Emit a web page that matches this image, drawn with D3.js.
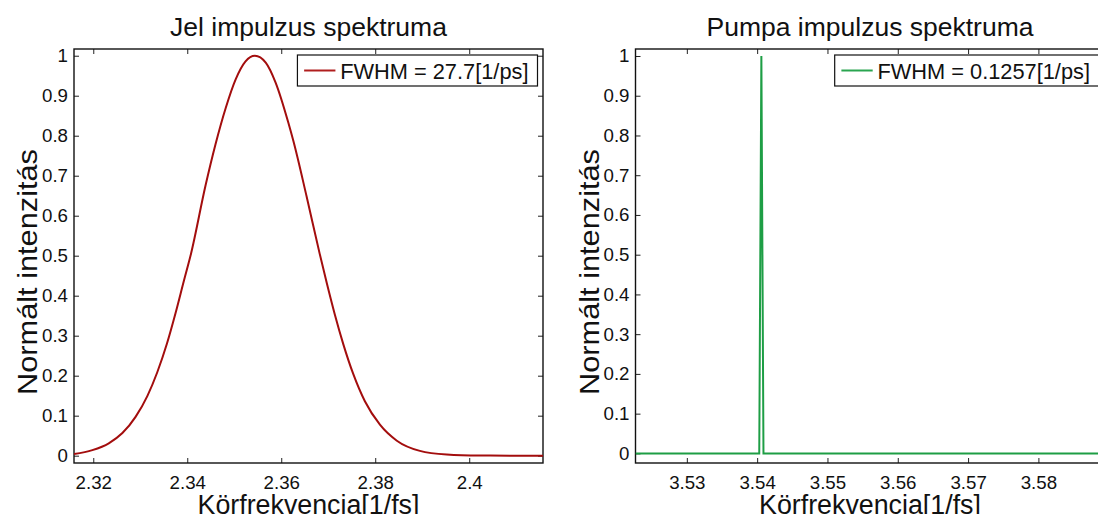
<!DOCTYPE html>
<html>
<head>
<meta charset="utf-8">
<script src="https://cdn.jsdelivr.net/npm/d3@7"></script>
<style>
  body { margin: 0; background: #fff; }
  svg { display: block; font-family: "Liberation Sans", Arial, sans-serif; }
</style>
</head>
<body>
<svg id="chart" width="1098" height="514"></svg>
<script>
/*------------------- Data -------------------*/
const jelFreq = [2.3159, 2.3198, 2.3233, 2.3262, 2.3290, 2.3315, 2.3336, 2.3357, 2.3375, 2.3393,
                 2.3408, 2.3439, 2.3460, 2.3482, 2.3503, 2.3524, 2.3544, 2.3567, 2.3588, 2.3615,
                 2.3626, 2.3654, 2.3682, 2.3697, 2.3714, 2.3732, 2.3753, 2.3778, 2.3810, 2.3846,
                 2.3895, 2.3952, 2.4023, 2.4090, 2.4157];
const jelInt  = [0.004, 0.014, 0.031, 0.0565, 0.097, 0.149, 0.208, 0.281, 0.356, 0.438,
                 0.505, 0.676, 0.778, 0.870, 0.941, 0.986, 1.0, 0.983, 0.933, 0.833,
                 0.786, 0.648, 0.504, 0.431, 0.353, 0.279, 0.205, 0.136, 0.0775, 0.0375,
                 0.012, 0.003, 0.0004, 0, 0];

const pumpaFreq = [3.5227, 3.5300, 3.5403, 3.5406, 3.5409, 3.5500, 3.5894];
const pumpaInt  = [0, 0, 0, 1, 0, 0, 0];

const jelTicksX   = [2.32, 2.34, 2.36, 2.38, 2.40];
const pumpaTicksX = [3.53, 3.54, 3.55, 3.56, 3.57, 3.58];
const ticksY      = [0, 0.1, 0.2, 0.3, 0.4, 0.5, 0.6, 0.7, 0.8, 0.9, 1];

const titles  = ["Jel impulzus spektruma", "Pumpa impulzus spektruma"];
const legends = ["FWHM = 27.7[1/ps]", "FWHM = 0.1257[1/ps]"];
const xLabel  = "Körfrekvencia[1/fs]";
const yLabel  = "Normált intenzitás";

/*------------------- Layout -------------------*/
const svg = d3.select("#chart");
const plotTop = 49, plotBottom = 463;

const panels = [
    {
        left: 74, right: 543,
        xDomain: [2.3159, 2.4157], yDomain: [-0.0183, 1.0168],
        xs: jelFreq, ys: jelInt, ticksX: jelTicksX,
        color: "#a30d0d", legendColor: "#b01e1e",
        title: titles[0], legend: legends[0]
    },
    {
        left: 635.5, right: 1104.5,
        xDomain: [3.5227, 3.5894], yDomain: [-0.0242, 1.0176],
        xs: pumpaFreq, ys: pumpaInt, ticksX: pumpaTicksX,
        color: "#1e9e45", legendColor: "#2aa550",
        title: titles[1], legend: legends[1]
    }
];

panels.forEach((p, i) => {
    const x = d3.scaleLinear().domain(p.xDomain).range([p.left, p.right]);
    const y = d3.scaleLinear().domain(p.yDomain).range([plotBottom, plotTop]);
    const g = svg.append("g");

    g.append("clipPath").attr("id", "clip" + i)
        .append("rect")
        .attr("x", p.left).attr("y", plotTop)
        .attr("width", p.right - p.left).attr("height", plotBottom - plotTop);

    // axes (ticks inward, on all four sides)
    const fmt = d => d3.format("~g")(d);
    const axB = g.append("g").attr("transform", `translate(0,${plotBottom})`)
        .call(d3.axisBottom(x).tickValues(p.ticksX).tickFormat(fmt).tickSizeInner(-5).tickSizeOuter(0).tickPadding(13));
    const axT = g.append("g").attr("transform", `translate(0,${plotTop})`)
        .call(d3.axisTop(x).tickValues(p.ticksX).tickFormat("").tickSizeInner(-5).tickSizeOuter(0));
    const axL = g.append("g").attr("transform", `translate(${p.left},0)`)
        .call(d3.axisLeft(y).tickValues(ticksY).tickFormat(fmt).tickSizeInner(-5).tickSizeOuter(0).tickPadding(6));
    const axR = g.append("g").attr("transform", `translate(${p.right},0)`)
        .call(d3.axisRight(y).tickValues(ticksY).tickFormat("").tickSizeInner(-5).tickSizeOuter(0));

    [axB, axT, axL, axR].forEach(a => {
        a.select(".domain").remove();
        a.selectAll("line").attr("stroke", "#222").attr("stroke-width", 1);
        a.selectAll("text").attr("fill", "#111").style("font-size", "18.7px")
            .style("font-family", "'Liberation Sans', Arial, sans-serif");
    });

    // box
    g.append("rect")
        .attr("x", p.left).attr("y", plotTop)
        .attr("width", p.right - p.left).attr("height", plotBottom - plotTop)
        .attr("fill", "none").attr("stroke", "#111").attr("stroke-width", 1.4);

    // line
    const line = d3.line()
        .x((d, k) => x(p.xs[k]))
        .y(d => y(d))
        .curve(i === 0 ? d3.curveMonotoneX : d3.curveLinear);

    g.append("path")
        .datum(p.ys)
        .attr("clip-path", `url(#clip${i})`)
        .attr("d", line)
        .attr("fill", "none")
        .attr("stroke", p.color)
        .attr("stroke-width", 2);

    // title and labels
    const cx = (p.left + p.right) / 2;
    g.append("text").attr("x", cx).attr("y", 35.5)
        .attr("text-anchor", "middle").style("font-size", "26.5px").attr("fill", "#111")
        .text(p.title);
    g.append("text").attr("x", cx).attr("y", 513.5)
        .attr("text-anchor", "middle").style("font-size", "26.8px").attr("fill", "#111")
        .text(xLabel);
    // the rotated label is drawn a bit larger in the original
    g.append("text")
        .attr("transform", `translate(${p.left - 37},272) rotate(-90)`)
        .attr("text-anchor", "middle").style("font-size", "28px").attr("fill", "#111")
        .attr("textLength", 246).attr("lengthAdjust", "spacingAndGlyphs")
        .text(yLabel);

    // legend, anchored to the top-right corner of the axes
    const lg = g.append("g");
    const lgRight = p.right - 5.5, lgTop = plotTop + 6, lgH = 31;
    const txt = lg.append("text").style("font-size", "21.8px").attr("fill", "#111").text(p.legend);
    const tw = txt.node().getComputedTextLength();
    const lgW = 42.7 + tw + 9;
    const lgLeft = lgRight - lgW;
    lg.insert("rect", "text")
        .attr("x", lgLeft).attr("y", lgTop).attr("width", lgW).attr("height", lgH)
        .attr("fill", "#fff").attr("stroke", "#111").attr("stroke-width", 1.2);
    lg.append("line")
        .attr("x1", lgLeft + 6.7).attr("x2", lgLeft + 38)
        .attr("y1", lgTop + lgH / 2).attr("y2", lgTop + lgH / 2)
        .attr("stroke", p.legendColor).attr("stroke-width", 2);
    txt.attr("x", lgLeft + 42.7).attr("y", lgTop + 24);
});
</script>
</body>
</html>
